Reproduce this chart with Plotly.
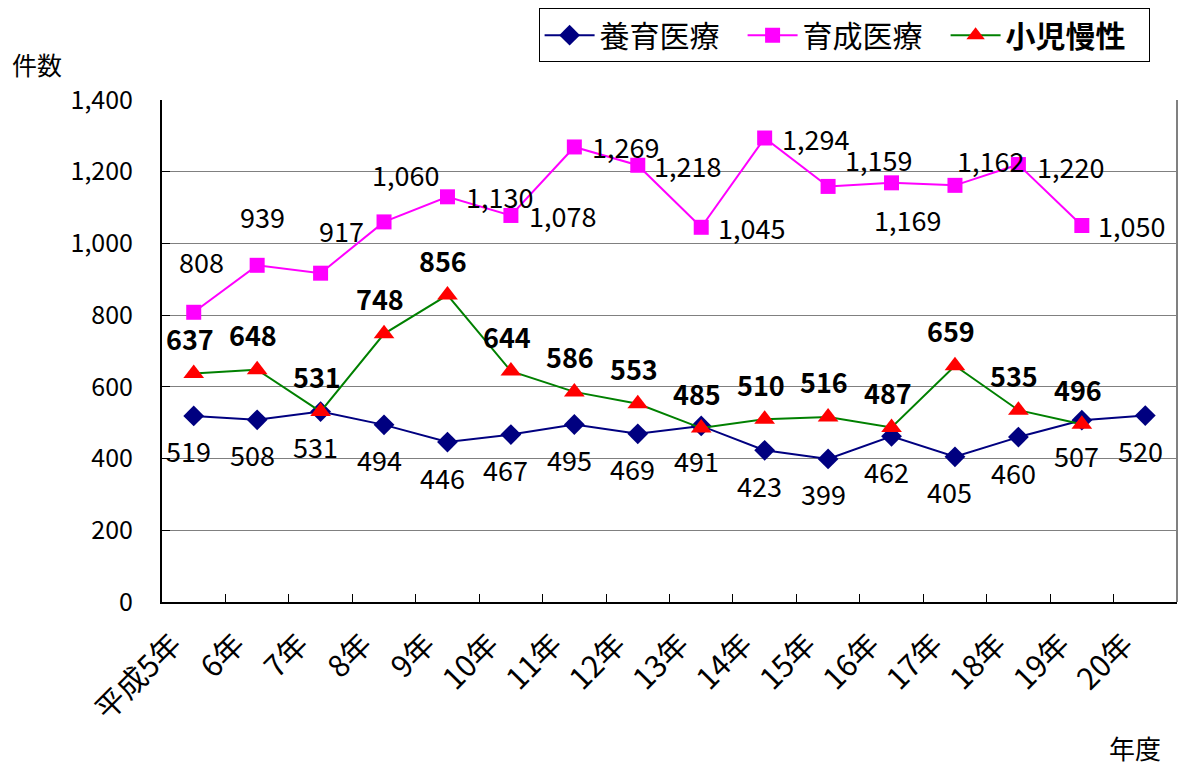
import plotly.graph_objects as go

years = ["平成5年", "6年", "7年", "8年", "9年", "10年", "11年", "12年",
         "13年", "14年", "15年", "16年", "17年", "18年", "19年", "20年"]
yoiku = [519, 508, 531, 494, 446, 467, 495, 469, 491, 423, 399, 462, 405, 460, 507, 520]
ikusei = [808, 939, 917, 1060, 1130, 1078, 1269, 1218, 1045, 1294, 1159, 1169, 1162, 1220, 1050]
shoni = [637, 648, 531, 748, 856, 644, 586, 553, 485, 510, 516, 487, 659, 535, 496]
y_ticks = [0, 200, 400, 600, 800, 1000, 1200, 1400]

# label placement (pixel offsets) for 育成医療 labels, style only
ikusei_label_shift = [(8, 51), (5, 49), (21, 43), (21, 47), (52, 0), (52, 0), (51, 0), (50, 0),
                      (50, 0), (51, 0), (50, 27), (16, -37), (36, 25), (52, -2), (50, 0)]

FONT = "Noto Sans CJK JP"
LBL = 27
fig = go.Figure()

fig.add_trace(go.Scatter(x=years[:len(yoiku)], y=yoiku, name="養育医療", mode="lines+markers",
                         line=dict(color="#000080", width=2),
                         marker=dict(symbol="diamond", size=16, color="#000080")))
fig.add_trace(go.Scatter(x=years[:len(ikusei)], y=ikusei, name="育成医療", mode="lines+markers",
                         line=dict(color="#FF00FF", width=2),
                         marker=dict(symbol="square", size=15, color="#FF00FF")))
fig.add_trace(go.Scatter(x=years[:len(shoni)], y=shoni, name="<b>小児慢性</b>", mode="lines+markers",
                         line=dict(color="#008000", width=2),
                         marker=dict(symbol="triangle-up", size=18, color="#FF0000")))

annotations = []
for xv, yv in zip(years, yoiku):
    annotations.append(dict(x=xv, y=yv, xref="x", yref="y", text=f"{yv:,}", showarrow=False,
                            xshift=-5, yshift=-35, font=dict(size=LBL, color="black", family=FONT)))
for (xv, yv), (dx, dy) in zip(zip(years, ikusei), ikusei_label_shift):
    annotations.append(dict(x=xv, y=yv, xref="x", yref="y", text=f"{yv:,}", showarrow=False,
                            xshift=dx, yshift=dy, font=dict(size=LBL, color="black", family=FONT)))
for xv, yv in zip(years, shoni):
    annotations.append(dict(x=xv, y=yv, xref="x", yref="y", text=f"<b>{yv:,}</b>", showarrow=False,
                            xshift=-4, yshift=35, font=dict(size=LBL, color="black", family=FONT)))

annotations.append(dict(x=-0.123, y=1.072, xref="paper", yref="paper", text="件数", showarrow=False,
                        xanchor="center", yanchor="middle",
                        font=dict(size=25, color="black", family=FONT)))
annotations.append(dict(x=0.9586, y=-0.29, xref="paper", yref="paper", text="年度", showarrow=False,
                        xanchor="center", yanchor="middle", borderpad=0,
                        font=dict(size=26, color="black", family=FONT)))

fig.update_layout(
    width=1179, height=770,
    margin=dict(l=162, r=2, t=100, b=168, autoexpand=False),
    paper_bgcolor="white", plot_bgcolor="white",
    font=dict(family=FONT, color="black"),
    annotations=annotations,
    showlegend=True,
    legend=dict(orientation="h", x=0.973, xanchor="right", y=1.183, yanchor="top",
                bordercolor="black", borderwidth=1, bgcolor="white",
                font=dict(size=30, color="black", family=FONT), itemwidth=50,
                entrywidth=138, entrywidthmode="pixels",
                tracegroupgap=0),
    shapes=[dict(type="line", xref="paper", yref="paper", x0=1, x1=1, y0=0, y1=1,
                 line=dict(color="#808080", width=2))],
)
fig.update_xaxes(type="category", categoryorder="array", categoryarray=years,
                 range=[-0.5, len(years) - 0.5], automargin=False,
                 showline=True, linecolor="black", linewidth=2,
                 ticks="inside", tickson="boundaries", ticklen=8, tickcolor="black",
                 tickangle=-45, tickfont=dict(size=30, color="black", family=FONT),
                 showgrid=False, ticklabelstandoff=11, ticklabelshift=-21)
fig.update_yaxes(range=[0, 1400], tickvals=y_ticks, tickformat=",d",
                 automargin=False,
                 showline=True, linecolor="black", linewidth=2,
                 ticks="inside", ticklen=8, tickcolor="black",
                 showgrid=True, gridcolor="#808080", gridwidth=1,
                 tickfont=dict(size=25, color="black", family=FONT),
                 ticklabelstandoff=22, zeroline=False)

fig.write_html("out.html", config={"displayModeBar": False},
               post_script="document.body.style.margin='0';")
